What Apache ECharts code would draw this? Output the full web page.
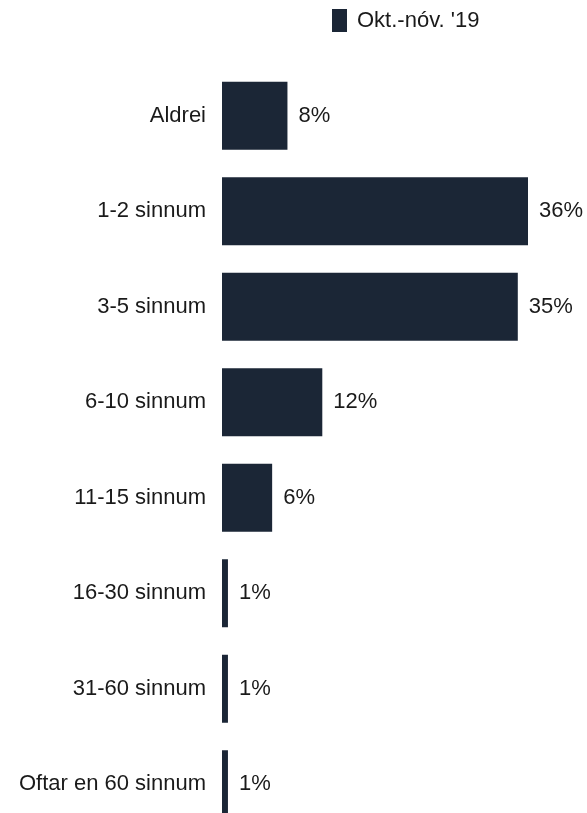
<!DOCTYPE html>
<html>
<head>
<meta charset="utf-8">
<script src="https://cdn.jsdelivr.net/npm/echarts@6/dist/echarts.min.js"></script>
<style>
  html, body { margin: 0; padding: 0; background: #fff; }
  #chart { width: 587px; height: 813px; }
</style>
</head>
<body>
<div id="chart"></div>
<script>
const categories = ["Aldrei", "1-2 sinnum", "3-5 sinnum", "6-10 sinnum", "11-15 sinnum", "16-30 sinnum", "31-60 sinnum", "Oftar en 60 sinnum"];
const values = [7.7, 36, 34.8, 11.8, 5.9, 0.7, 0.7, 0.7];
const valueLabels = ["8%", "36%", "35%", "12%", "6%", "1%", "1%", "1%"];
const seriesName = "Okt.-nóv. '19";

const font = "Liberation Sans, Arial, sans-serif";
const chart = echarts.init(document.querySelector("#chart"));
chart.setOption({
  animation: false,
  legend: {
    left: 332,
    top: 9,
    padding: 0,
    itemWidth: 15,
    itemHeight: 23,
    itemGap: 10,
    data: [{ name: seriesName, icon: "rect" }],
    textStyle: { fontFamily: font, fontSize: 22, color: "#1a1a1a", padding: [0, 0, 0, 5] }
  },
  grid: { left: 222, top: 68, width: 340, height: 764, containLabel: false, outerBoundsMode: "none" },
  xAxis: {
    type: "value",
    min: 0,
    max: 40,
    show: false
  },
  yAxis: {
    type: "category",
    inverse: true,
    data: categories,
    axisLine: { show: false },
    axisTick: { show: false },
    axisLabel: { margin: 16, fontFamily: font, fontSize: 22, color: "#1a1a1a" }
  },
  series: [
    {
      name: seriesName,
      type: "bar",
      data: values,
      barWidth: 68,
      itemStyle: { color: "#1b2636" },
      label: {
        show: true,
        position: "right",
        distance: 11,
        fontFamily: font,
        fontSize: 22,
        color: "#1a1a1a",
        formatter: p => valueLabels[p.dataIndex]
      }
    }
  ]
});
</script>
</body>
</html>
